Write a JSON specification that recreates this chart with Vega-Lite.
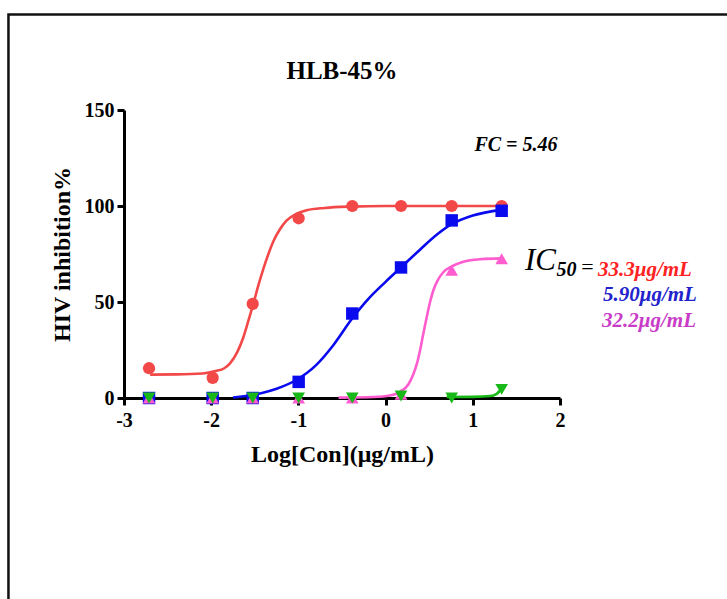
{
  "$schema": "https://vega.github.io/schema/vega-lite/v6.json",
  "width": 436,
  "height": 288,
  "autosize": {"type": "none"},
  "padding": {"left": 124, "top": 110, "right": 167, "bottom": 201},
  "background": "white",
  "config": {
    "view": {"stroke": null},
    "axis": {"grid": false, "domainColor": "black", "domainWidth": 3, "tickColor": "black", "tickWidth": 3, "tickSize": 7, "labelFont": "Liberation Serif", "labelFontWeight": "bold", "labelFontSize": 20, "labelColor": "black", "labelFlush": false, "titleFont": "Liberation Serif", "titleFontWeight": "bold", "titleFontSize": 24, "titleColor": "black"}
  },
  "datasets": {
    "points": [
      {"series": "red", "logc": -2.713, "inh": 15.5},
      {"series": "red", "logc": -1.983, "inh": 10.5},
      {"series": "red", "logc": -1.524, "inh": 49},
      {"series": "red", "logc": -0.997, "inh": 93.6},
      {"series": "red", "logc": -0.382, "inh": 100},
      {"series": "red", "logc": 0.177, "inh": 100},
      {"series": "red", "logc": 0.758, "inh": 100},
      {"series": "red", "logc": 1.331, "inh": 100},
      {"series": "blue", "logc": -2.713, "inh": 0},
      {"series": "blue", "logc": -1.983, "inh": 0},
      {"series": "blue", "logc": -1.524, "inh": 0},
      {"series": "blue", "logc": -0.997, "inh": 8.4},
      {"series": "blue", "logc": -0.382, "inh": 44},
      {"series": "blue", "logc": 0.177, "inh": 68},
      {"series": "blue", "logc": 0.758, "inh": 92.5},
      {"series": "blue", "logc": 1.331, "inh": 97.5},
      {"series": "magenta", "logc": -2.713, "inh": 0},
      {"series": "magenta", "logc": -1.983, "inh": 0},
      {"series": "magenta", "logc": -1.524, "inh": 0},
      {"series": "magenta", "logc": -0.997, "inh": 0},
      {"series": "magenta", "logc": -0.382, "inh": 0},
      {"series": "magenta", "logc": 0.177, "inh": 2},
      {"series": "magenta", "logc": 0.758, "inh": 66.5},
      {"series": "magenta", "logc": 1.331, "inh": 72.5},
      {"series": "green", "logc": -2.713, "inh": 0},
      {"series": "green", "logc": -1.983, "inh": 0},
      {"series": "green", "logc": -1.524, "inh": 0},
      {"series": "green", "logc": -0.997, "inh": 0},
      {"series": "green", "logc": -0.382, "inh": 0},
      {"series": "green", "logc": 0.177, "inh": 1},
      {"series": "green", "logc": 0.758, "inh": 0},
      {"series": "green", "logc": 1.331, "inh": 4.5}
    ],
    "curves": [
      {"series": "red", "logc": -2.70, "inh": 12.2},
      {"series": "red", "logc": -2.40, "inh": 12.3},
      {"series": "red", "logc": -2.10, "inh": 12.8},
      {"series": "red", "logc": -1.95, "inh": 14},
      {"series": "red", "logc": -1.85, "inh": 15.5},
      {"series": "red", "logc": -1.784, "inh": 18},
      {"series": "red", "logc": -1.70, "inh": 24},
      {"series": "red", "logc": -1.632, "inh": 31.5},
      {"series": "red", "logc": -1.575, "inh": 40},
      {"series": "red", "logc": -1.517, "inh": 49},
      {"series": "red", "logc": -1.46, "inh": 58.5},
      {"series": "red", "logc": -1.40, "inh": 67.5},
      {"series": "red", "logc": -1.34, "inh": 75.5},
      {"series": "red", "logc": -1.288, "inh": 81.5},
      {"series": "red", "logc": -1.21, "inh": 88},
      {"series": "red", "logc": -1.134, "inh": 92.5},
      {"series": "red", "logc": -1.02, "inh": 96},
      {"series": "red", "logc": -0.905, "inh": 97.8},
      {"series": "red", "logc": -0.70, "inh": 99},
      {"series": "red", "logc": -0.40, "inh": 99.7},
      {"series": "red", "logc": 0.0, "inh": 100},
      {"series": "red", "logc": 1.331, "inh": 100},
      {"series": "blue", "logc": -1.75, "inh": 0.3},
      {"series": "blue", "logc": -1.50, "inh": 1.8},
      {"series": "blue", "logc": -1.25, "inh": 4.8},
      {"series": "blue", "logc": -1.02, "inh": 9.5},
      {"series": "blue", "logc": -0.80, "inh": 17},
      {"series": "blue", "logc": -0.60, "inh": 27.5},
      {"series": "blue", "logc": -0.39, "inh": 41},
      {"series": "blue", "logc": -0.20, "inh": 51.5},
      {"series": "blue", "logc": 0.0, "inh": 60.5},
      {"series": "blue", "logc": 0.177, "inh": 68},
      {"series": "blue", "logc": 0.40, "inh": 77.5},
      {"series": "blue", "logc": 0.60, "inh": 85.5},
      {"series": "blue", "logc": 0.758, "inh": 90.5},
      {"series": "blue", "logc": 1.0, "inh": 95},
      {"series": "blue", "logc": 1.331, "inh": 98},
      {"series": "magenta", "logc": -0.54, "inh": 0.2},
      {"series": "magenta", "logc": -0.20, "inh": 0.4},
      {"series": "magenta", "logc": 0.012, "inh": 1},
      {"series": "magenta", "logc": 0.185, "inh": 3.7},
      {"series": "magenta", "logc": 0.26, "inh": 7},
      {"series": "magenta", "logc": 0.318, "inh": 12.4},
      {"series": "magenta", "logc": 0.36, "inh": 18},
      {"series": "magenta", "logc": 0.394, "inh": 24.6},
      {"series": "magenta", "logc": 0.43, "inh": 33},
      {"series": "magenta", "logc": 0.471, "inh": 42},
      {"series": "magenta", "logc": 0.51, "inh": 50},
      {"series": "magenta", "logc": 0.547, "inh": 56},
      {"series": "magenta", "logc": 0.60, "inh": 61.5},
      {"series": "magenta", "logc": 0.662, "inh": 65.5},
      {"series": "magenta", "logc": 0.758, "inh": 68.5},
      {"series": "magenta", "logc": 0.891, "inh": 71},
      {"series": "magenta", "logc": 1.083, "inh": 72.3},
      {"series": "magenta", "logc": 1.331, "inh": 72.7},
      {"series": "green", "logc": 0.70, "inh": 0.5},
      {"series": "green", "logc": 1.00, "inh": 0.6},
      {"series": "green", "logc": 1.20, "inh": 1},
      {"series": "green", "logc": 1.27, "inh": 2},
      {"series": "green", "logc": 1.331, "inh": 5}
    ],
    "frame": [{"x1": -4.325, "x2": 4.4, "y1": -125, "y2": 199.7}],
    "heading": [{"logc": -0.5, "inh": 170.5, "text": "HLB-45%"}],
    "labels": [
      {"logc": 1.495, "inh": 131.8, "text": "FC = 5.46"}
    ],
    "ic": [
      {"logc": 2.436, "inh": 63.5, "text": "33.3μg/mL", "series": "red"},
      {"logc": 2.493, "inh": 50.5, "text": "5.90μg/mL", "series": "blue"},
      {"logc": 2.482, "inh": 37, "text": "32.2μg/mL", "series": "magenta"}
    ]
  },
  "layer": [
    {
      "data": {"name": "frame"},
      "mark": {"type": "rect", "fill": null, "stroke": "#111111", "strokeWidth": 2.5, "clip": false},
      "encoding": {
        "x": {"field": "x1", "type": "quantitative", "scale": {"domain": [-3, 2], "nice": false, "zero": false}},
        "x2": {"field": "x2"},
        "y": {"field": "y1", "type": "quantitative", "scale": {"domain": [0, 150], "nice": false}},
        "y2": {"field": "y2"}
      }
    },
    {
      "data": {"name": "curves"},
      "mark": {"type": "line", "interpolate": "monotone", "strokeWidth": 2.6, "clip": false},
      "encoding": {
        "x": {"field": "logc", "type": "quantitative", "scale": {"domain": [-3, 2], "nice": false, "zero": false},
              "axis": {"values": [-3, -2, -1, 0, 1, 2], "labelExpr": "'' + datum.value", "title": "Log[Con](μg/mL)", "labelPadding": 5, "titlePadding": 12}},
        "y": {"field": "inh", "type": "quantitative", "scale": {"domain": [0, 150], "nice": false},
              "axis": {"values": [0, 50, 100, 150], "labelExpr": "'' + datum.value", "title": "HIV inhibition%", "labelPadding": 3, "titlePadding": 10}},
        "color": {"field": "series", "type": "nominal", "legend": null,
                  "scale": {"domain": ["red", "blue", "magenta", "green"], "range": ["#f24848", "#0a0aee", "#ff5ccf", "#18b818"]}},
        "order": {"field": "logc", "type": "quantitative"}
      }
    },
    {
      "data": {"name": "points"},
      "mark": {"type": "point", "filled": true, "opacity": 1, "clip": false},
      "encoding": {
        "x": {"field": "logc", "type": "quantitative"},
        "y": {"field": "inh", "type": "quantitative"},
        "color": {"field": "series", "type": "nominal", "legend": null,
                  "scale": {"domain": ["red", "blue", "magenta", "green"], "range": ["#f24848", "#0a0aee", "#ff5ccf", "#18b818"]}},
        "shape": {"field": "series", "type": "nominal", "legend": null,
                  "scale": {"domain": ["red", "blue", "magenta", "green"], "range": ["circle", "square", "triangle-up", "triangle-down"]}},
        "size": {"field": "series", "type": "nominal", "legend": null,
                 "scale": {"type": "ordinal", "domain": ["red", "blue", "magenta", "green"], "range": [150, 155, 160, 160]}}
      }
    },
    {
      "data": {"name": "heading"},
      "mark": {"type": "text", "font": "Liberation Serif", "fontSize": 25, "fontWeight": "bold", "color": "black", "align": "center", "baseline": "middle", "clip": false},
      "encoding": {
        "x": {"field": "logc", "type": "quantitative"},
        "y": {"field": "inh", "type": "quantitative"},
        "text": {"field": "text"}
      }
    },
    {
      "data": {"name": "labels"},
      "mark": {"type": "text", "font": "Liberation Serif", "fontSize": 20, "fontWeight": "bold", "fontStyle": "italic", "color": "black", "align": "center", "baseline": "middle", "clip": false},
      "encoding": {
        "x": {"field": "logc", "type": "quantitative"},
        "y": {"field": "inh", "type": "quantitative"},
        "text": {"field": "text"}
      }
    },
    {
      "data": {"values": [{"logc": 1.599, "inh": 66.5, "text": "IC"}]},
      "mark": {"type": "text", "font": "Liberation Serif", "fontSize": 31, "fontStyle": "italic", "color": "black", "align": "left", "baseline": "alphabetic", "clip": false},
      "encoding": {
        "x": {"field": "logc", "type": "quantitative"},
        "y": {"field": "inh", "type": "quantitative"},
        "text": {"field": "text"}
      }
    },
    {
      "data": {"values": [{"logc": 1.96, "inh": 63.5, "text": "50"}]},
      "mark": {"type": "text", "font": "Liberation Serif", "fontSize": 20, "fontWeight": "bold", "fontStyle": "italic", "color": "black", "align": "left", "baseline": "alphabetic", "clip": false},
      "encoding": {
        "x": {"field": "logc", "type": "quantitative"},
        "y": {"field": "inh", "type": "quantitative"},
        "text": {"field": "text"}
      }
    },
    {
      "data": {"values": [{"logc": 2.245, "inh": 64.5, "text": "="}]},
      "mark": {"type": "text", "font": "Liberation Serif", "fontSize": 22, "color": "black", "align": "left", "baseline": "alphabetic", "clip": false},
      "encoding": {
        "x": {"field": "logc", "type": "quantitative"},
        "y": {"field": "inh", "type": "quantitative"},
        "text": {"field": "text"}
      }
    },
    {
      "data": {"name": "ic"},
      "mark": {"type": "text", "font": "Liberation Serif", "fontSize": 21, "fontWeight": "bold", "fontStyle": "italic", "align": "left", "baseline": "alphabetic", "clip": false},
      "encoding": {
        "x": {"field": "logc", "type": "quantitative"},
        "y": {"field": "inh", "type": "quantitative"},
        "text": {"field": "text"},
        "color": {"field": "series", "type": "nominal", "legend": null,
                  "scale": {"domain": ["red", "blue", "magenta"], "range": ["#ff2222", "#2222cc", "#c83cc8"]}}
      }
    }
  ],
  "resolve": {"scale": {"color": "independent"}}
}
